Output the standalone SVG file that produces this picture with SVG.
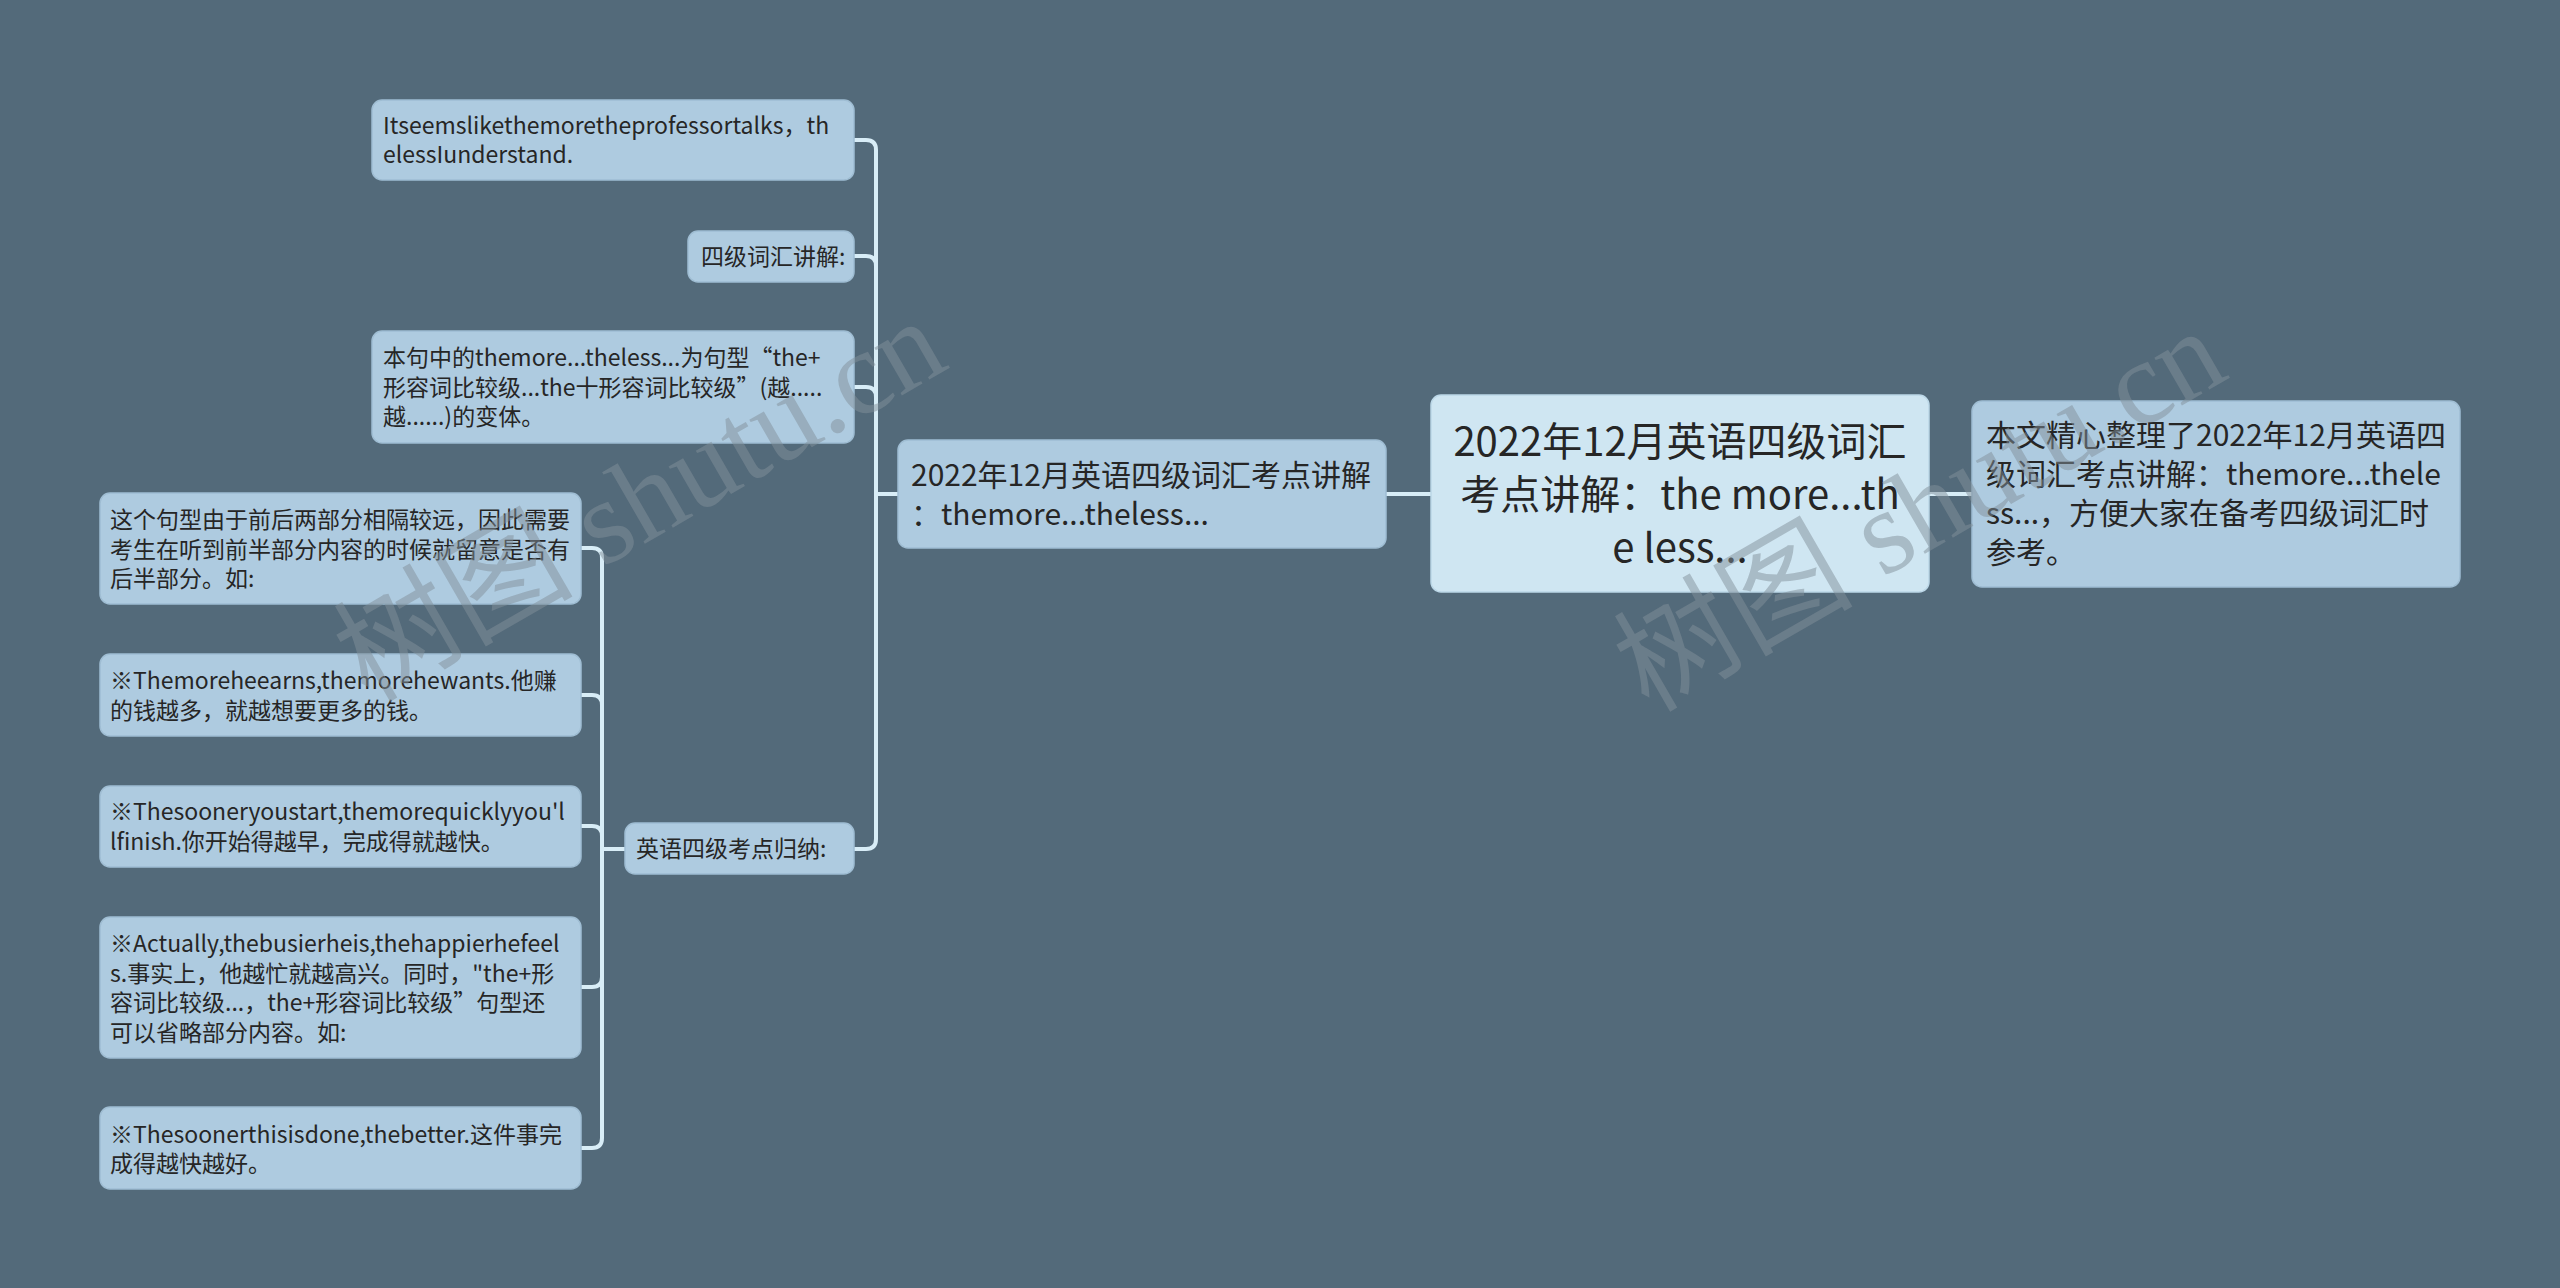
<svg xmlns="http://www.w3.org/2000/svg" width="2560" height="1288" viewBox="0 0 2560 1288">
<style>
.bg{fill:#536a7a}
.box{fill:#aecbe0;stroke:#9fbdd3;stroke-width:1.5}
.cbox{fill:#cfe6f2;stroke:#bcd8e8;stroke-width:1.5}
.t{font-family:"Noto Sans CJK SC","Noto Sans",sans-serif;fill:#262626}
.s{font-size:23px}
.m{font-size:30px}
.l{font-size:40px}
.conn{fill:none;stroke:#d8edf7;stroke-width:4;stroke-linecap:round}
.wm{font-family:"Liberation Serif","Noto Sans CJK SC",serif;font-size:120px;fill:#828f99;fill-opacity:0.5}
</style>
<rect class="bg" x="0" y="0" width="2560" height="1288"/>
<g id="connectors">
<path class="conn" d="M854,140 H866 Q876,140 876,150 V839 Q876,849 866,849 H854"/>
<path class="conn" d="M854,256 H866 Q876,256 876,266"/>
<path class="conn" d="M854,387 H866 Q876,387 876,397"/>
<path class="conn" d="M898,494 H876"/>
<path class="conn" d="M581,548 H592 Q602,548 602,558 V1138 Q602,1148 592,1148 H581"/>
<path class="conn" d="M581,695 H592 Q602,695 602,705"/>
<path class="conn" d="M581,826 H592 Q602,826 602,836"/>
<path class="conn" d="M581,987 H592 Q602,987 602,977"/>
<path class="conn" d="M625,849 H602"/>
<path class="conn" d="M1386,494 H1431"/>
<path class="conn" d="M1929,494 H1972"/>
</g>
<g id="node-center">
<rect class="cbox" x="1431" y="395" width="498" height="197" rx="10"/>
<text class="t l" text-anchor="middle"><tspan x="1680" y="456">2022年12月英语四级词汇</tspan><tspan x="1680" y="509">考点讲解：the more...th</tspan><tspan x="1680" y="562">e less...</tspan></text>
</g>
<g id="node-right">
<rect class="box" x="1972" y="401" width="488" height="186" rx="10"/>
<text class="t m"><tspan x="1986" y="446">本文精心整理了2022年12月英语四</tspan><tspan x="1986" y="485">级词汇考点讲解：themore...thele</tspan><tspan x="1986" y="524">ss...，方便大家在备考四级词汇时</tspan><tspan x="1986" y="563">参考。</tspan></text>
</g>
<g id="node-leftmain">
<rect class="box" x="898" y="440" width="488" height="108" rx="10"/>
<text class="t m"><tspan x="911" y="486">2022年12月英语四级词汇考点讲解</tspan><tspan x="911" y="525">：themore...theless...</tspan></text>
</g>
<g id="node-itseems">
<rect class="box" x="372" y="100" width="482" height="80" rx="10"/>
<text class="t s"><tspan x="383" y="134">Itseemslikethemoretheprofessortalks，th</tspan><tspan x="383" y="163">elessIunderstand.</tspan></text>
</g>
<g id="node-siji">
<rect class="box" x="688" y="231" width="166" height="51" rx="10"/>
<text class="t s" x="701" y="265">四级词汇讲解:</text>
</g>
<g id="node-benju">
<rect class="box" x="372" y="331" width="482" height="112" rx="10"/>
<text class="t s"><tspan x="383" y="366">本句中的themore...theless...为句型“the+</tspan><tspan x="383" y="396">形容词比较级...the十形容词比较级”(越.....</tspan><tspan x="383" y="425">越......)的变体。</tspan></text>
</g>
<g id="node-yingyu">
<rect class="box" x="625" y="823" width="229" height="51" rx="10"/>
<text class="t s" x="636" y="857">英语四级考点归纳:</text>
</g>
<g id="node-zhege">
<rect class="box" x="100" y="493" width="481" height="111" rx="10"/>
<text class="t s"><tspan x="110" y="528">这个句型由于前后两部分相隔较远，因此需要</tspan><tspan x="110" y="558">考生在听到前半部分内容的时候就留意是否有</tspan><tspan x="110" y="587">后半部分。如:</tspan></text>
</g>
<g id="node-themore">
<rect class="box" x="100" y="654" width="481" height="82" rx="10"/>
<text class="t s"><tspan x="110" y="689">※Themoreheearns,themorehewants.他赚</tspan><tspan x="110" y="719">的钱越多，就越想要更多的钱。</tspan></text>
</g>
<g id="node-sooner">
<rect class="box" x="100" y="786" width="481" height="81" rx="10"/>
<text class="t s"><tspan x="110" y="820">※Thesooneryoustart,themorequicklyyou'l</tspan><tspan x="110" y="850">lfinish.你开始得越早，完成得就越快。</tspan></text>
</g>
<g id="node-actually">
<rect class="box" x="100" y="917" width="481" height="141" rx="10"/>
<text class="t s"><tspan x="110" y="952">※Actually,thebusierheis,thehappierhefeel</tspan><tspan x="110" y="982">s.事实上，他越忙就越高兴。同时，"the+形</tspan><tspan x="110" y="1011">容词比较级...，the+形容词比较级”句型还</tspan><tspan x="110" y="1041">可以省略部分内容。如:</tspan></text>
</g>
<g id="node-done">
<rect class="box" x="100" y="1107" width="481" height="82" rx="10"/>
<text class="t s"><tspan x="110" y="1143">※Thesoonerthisisdone,thebetter.这件事完</tspan><tspan x="110" y="1172">成得越快越好。</tspan></text>
</g>
<g id="watermarks">
<text class="wm" transform="translate(660,535) rotate(-30)" text-anchor="middle">树图 shutu.cn</text>
<text class="wm" transform="translate(1940,545) rotate(-30)" text-anchor="middle">树图 shutu.cn</text>
</g>
</svg>
